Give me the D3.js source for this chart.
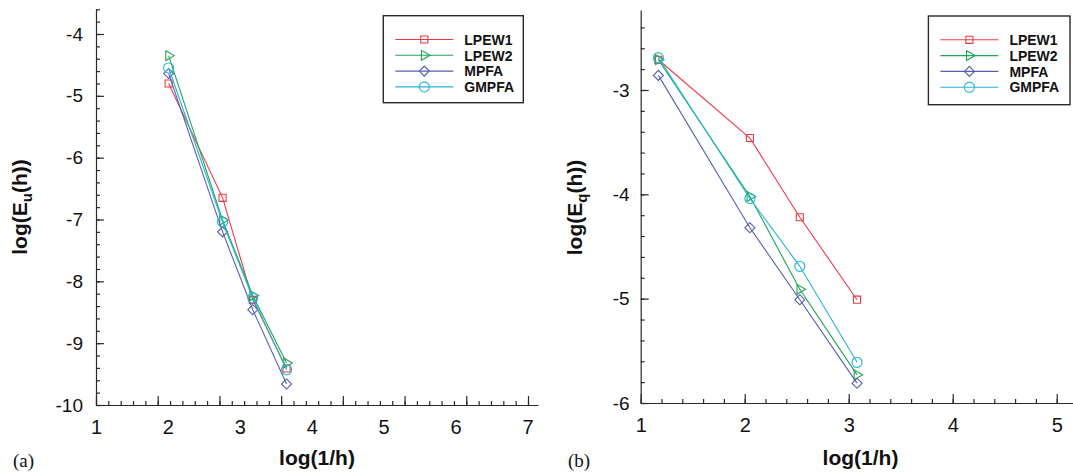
<!DOCTYPE html>
<html>
<head>
<meta charset="utf-8">
<script src="https://cdn.jsdelivr.net/npm/d3@7"></script>
<style>
  body { margin: 0; background: #fff; }
  svg { display: block; font-family: "Liberation Sans", Arial, Helvetica, sans-serif; }
</style>
</head>
<body>
<svg id="chart" width="1073" height="476"></svg>
<script>
const seriesNames = ['LPEW1', 'LPEW2', 'MPFA', 'GMPFA'];

// (a) log(E_u(h)) against log(1/h)
const xU = [2.01, 2.76, 3.18, 3.65];
const lpew1U = [-4.80, -6.65, -8.30, -9.41];
const lpew2U = [-4.35, -7.01, -8.23, -9.32];
const mpfaU = [-4.64, -7.20, -8.46, -9.66];
const gmpfaU = [-4.55, -7.04, -8.27, -9.43];

// (b) log(E_q(h)) against log(1/h)
const xQ = [1.17, 2.05, 2.53, 3.08];
const lpew1Q = [-2.71, -3.46, -4.22, -5.01];
const lpew2Q = [-2.71, -4.02, -4.91, -5.73];
const mpfaQ = [-2.86, -4.32, -5.01, -5.81];
const gmpfaQ = [-2.69, -4.04, -4.69, -5.61];

const xTicksA = [1, 2, 3, 4, 5, 6, 7];
const yTicksA = [-10, -9, -8, -7, -6, -5, -4];
const xTicksB = [1, 2, 3, 4, 5];
const yTicksB = [-6, -5, -4, -3];

const colors = { LPEW1: '#ec3a44', LPEW2: '#1ea552', MPFA: '#565fac', GMPFA: '#22b5d5' };
const shapes = {
  LPEW1: { type: d3.symbolSquare, size: 50, rot: 0 },
  LPEW2: { type: d3.symbolTriangle, size: 42, rot: 90 },
  MPFA: { type: d3.symbolSquare, size: 50, rot: 45 },
  GMPFA: { type: d3.symbolCircle, size: 80, rot: 0 },
};

const svg = d3.select('#chart');
const axisColor = '#2a2a2a';
const plain = d => String(d); // keep ASCII hyphen for negatives

// steps of 0.2 between a and b, without float drift
const steps = (a, b) => d3.range(0, Math.round((b - a) / 0.2) + 1).map(i => +(a + i * 0.2).toFixed(2));

function drawPanel(p) {
  const g = svg.append('g');
  const { x, y } = p;

  // x axis: tick marks (own scale) + labels
  const xLine = p.xMarks.copy().domain([p.xMarks.domain()[0], p.xMarks.invert(p.xEnd)]).range([p.xMarks.range()[0], p.xEnd]);
  g.append('g')
    .attr('transform', `translate(0,${y.range()[0]})`)
    .call(d3.axisBottom(xLine).tickValues(steps(p.xMarkMin, p.xMarkMax)).tickSize(-4).tickSizeOuter(0).tickFormat(''));
  g.append('g')
    .attr('transform', `translate(0,${y.range()[0]})`)
    .call(d3.axisBottom(xLine).tickValues(d3.range(p.xMarkMin, p.xMarkMax + 1)).tickSize(-9).tickFormat(''))
    .call(a => a.select('.domain').remove());
  g.append('g')
    .attr('transform', `translate(0,${y.range()[0]})`)
    .call(d3.axisBottom(x).tickValues(p.xTicks).tickSize(0).tickFormat(plain))
    .call(a => a.select('.domain').remove())
    .call(a => a.selectAll('text').attr('y', 29).attr('dy', 0)
      .style('font-size', '20px').attr('fill', '#111'));

  // y axis
  const yLine = y.copy().domain([y.domain()[0], y.invert(p.yTop)]).range([y.range()[0], p.yTop]);
  g.append('g')
    .attr('transform', `translate(${x.range()[0]},0)`)
    .call(d3.axisLeft(yLine).tickValues(steps(y.domain()[0], p.yMarkMax)).tickSize(-4).tickSizeOuter(0).tickFormat(''));
  g.append('g')
    .attr('transform', `translate(${x.range()[0]},0)`)
    .call(d3.axisLeft(y).tickValues(p.yTicks).tickSize(-8).tickFormat(plain))
    .call(a => a.select('.domain').remove())
    .call(a => a.selectAll('text').attr('x', -p.yPad).style('font-size', '19px').attr('fill', '#111'));

  g.selectAll('.domain, .tick line').attr('stroke', axisColor).attr('stroke-width', 1.2);

  // series
  const line = d3.line().x(d => x(d[0])).y(d => y(d[1]));
  seriesNames.forEach((name, i) => {
    const pts = p.xs.map((v, j) => [v, p.series[i][j]]);
    g.append('path').attr('d', line(pts))
      .attr('fill', 'none').attr('stroke', colors[name]).attr('stroke-width', 1.1);
    const s = shapes[name];
    g.selectAll(null).data(pts).join('path')
      .attr('d', d3.symbol().type(s.type).size(s.size))
      .attr('transform', d => `translate(${x(d[0])},${y(d[1])}) rotate(${s.rot})`)
      .attr('fill', 'none').attr('stroke', colors[name]).attr('stroke-width', 1.1);
  });

  // legend
  const L = p.legend;
  g.append('rect').attr('x', L.x).attr('y', L.y).attr('width', L.w).attr('height', L.h)
    .attr('fill', '#fff').attr('stroke', axisColor).attr('stroke-width', 1.4);
  seriesNames.forEach((name, i) => {
    const ry = L.y + 23.8 + i * 15.8;
    const s = shapes[name];
    g.append('line').attr('x1', L.x + 12).attr('x2', L.x + 70).attr('y1', ry).attr('y2', ry)
      .attr('stroke', colors[name]).attr('stroke-width', 1.1);
    g.append('path').attr('d', d3.symbol().type(s.type).size(s.size))
      .attr('transform', `translate(${L.x + 41},${ry}) rotate(${s.rot})`)
      .attr('fill', 'none').attr('stroke', colors[name]).attr('stroke-width', 1.1);
    g.append('text').attr('x', L.x + 81).attr('y', ry + 5.2)
      .style('font-size', '14px').style('font-weight', 'bold').attr('fill', '#111').text(name);
  });

  // axis titles
  g.append('text').attr('x', p.xTitleX).attr('y', 465).attr('text-anchor', 'middle')
    .style('font-size', '21px').style('font-weight', 'bold').attr('fill', '#111').text('log(1/h)');
  const yt = g.append('text').attr('transform', `translate(${p.yTitleX},${p.yTitleY}) rotate(-90)`)
    .attr('text-anchor', 'middle').style('font-size', '21px').style('font-weight', 'bold').attr('fill', '#111');
  yt.append('tspan').text('log(E');
  yt.append('tspan').attr('dy', 5).style('font-size', '15px').text(p.sub);
  yt.append('tspan').attr('dy', -5).text('(h))');

  g.append('text').attr('x', p.tagX).attr('y', 467)
    .style('font-family', '"Liberation Serif", "Times New Roman", serif').style('font-size', '19px')
    .attr('fill', '#111').text(p.tag);
}

const xA = d3.scaleLinear().domain([1, 7]).range([96, 527.5]);
const yA = d3.scaleLinear().domain([-10, -4]).range([405, 34]);
drawPanel({
  x: xA, y: yA,
  xMarks: d3.scaleLinear().domain([0, 7]).range([96, 528]), xMarkMin: 0, xMarkMax: 7, xEnd: 538,
  xTicks: xTicksA, yTicks: yTicksA, yTop: 9, yMarkMax: -3.6, yPad: 13,
  xs: xU, series: [lpew1U, lpew2U, mpfaU, gmpfaU],
  legend: { x: 383.3, y: 15.7, w: 140, h: 87 },
  xTitleX: 317, yTitleX: 27, yTitleY: 207, sub: 'u', tag: '(a)', tagX: 13,
});

const xB = d3.scaleLinear().domain([1, 5]).range([640.7, 1056.7]);
const yB = d3.scaleLinear().domain([-6, -3]).range([403, 90]);
drawPanel({
  x: xB, y: yB,
  xMarks: xB, xMarkMin: 1, xMarkMax: 5, xEnd: 1073,
  xTicks: xTicksB, yTicks: yTicksB, yTop: 10, yMarkMax: -2.4, yPad: 11,
  xs: xQ, series: [lpew1Q, lpew2Q, mpfaQ, gmpfaQ],
  legend: { x: 928.4, y: 16, w: 141.6, h: 88.7 },
  xTitleX: 860.5, yTitleX: 582, yTitleY: 207.5, sub: 'q', tag: '(b)', tagX: 568,
});
</script>
</body>
</html>
